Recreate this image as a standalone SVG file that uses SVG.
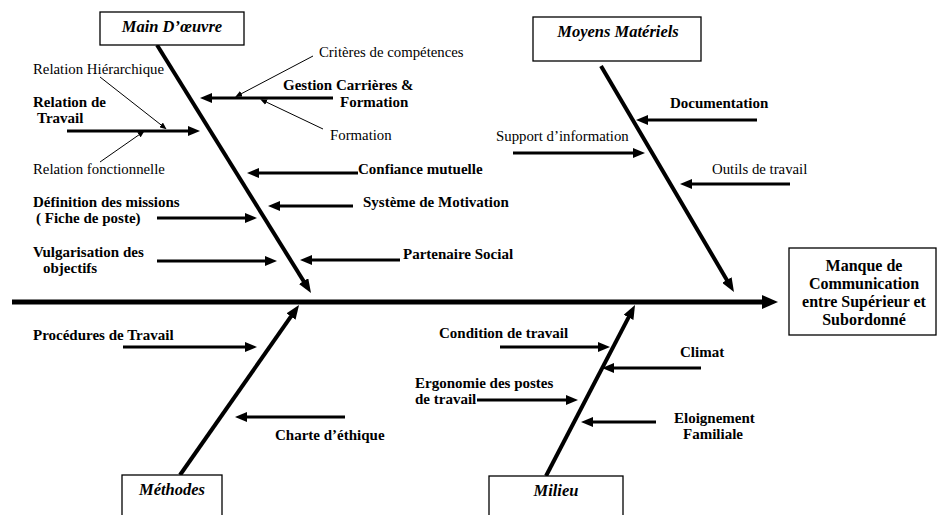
<svg xmlns="http://www.w3.org/2000/svg" width="938" height="515" viewBox="0 0 938 515">
<style>
text{font-family:"Liberation Serif","Times New Roman",serif;fill:#000}
.b{font-weight:bold;font-size:15px}
.r{font-size:14.8px}
.cat{font-style:italic;font-weight:bold;font-size:16.5px}
.eff{font-weight:bold;font-size:16px}
.box{fill:#fff;stroke:#000;stroke-width:1.3}
.thick{stroke:#000;stroke-width:3;fill:none;marker-end:url(#ah)}
.thin{stroke:#000;stroke-width:1;fill:none;marker-end:url(#as)}
.bone{stroke:#000;stroke-width:4;fill:none;marker-end:url(#ab)}
</style>
<defs>
<marker id="ah" markerUnits="userSpaceOnUse" markerWidth="12" markerHeight="10" refX="4" refY="5" orient="auto"><path d="M0,0 L12,5 L0,10 z" fill="#000"/></marker>
<marker id="as" markerUnits="userSpaceOnUse" markerWidth="7" markerHeight="6" refX="5" refY="3" orient="auto"><path d="M0,0 L7,3 L0,6 z" fill="#000"/></marker>
<marker id="ab" markerUnits="userSpaceOnUse" markerWidth="14" markerHeight="11" refX="4" refY="5.5" orient="auto"><path d="M0,0 L14,5.5 L0,11 z" fill="#000"/></marker>
<marker id="asp" markerUnits="userSpaceOnUse" markerWidth="16" markerHeight="14" refX="4" refY="7" orient="auto"><path d="M0,0 L16,7 L0,14 z" fill="#000"/></marker>
</defs>

<g id="connectors">
<line x1="12" y1="302" x2="766" y2="302" stroke="#000" stroke-width="5" marker-end="url(#asp)"/>
<line class="bone" x1="157" y1="45" x2="305.7" y2="284.5"/>
<line class="bone" x1="601" y1="66" x2="728.9" y2="283.4"/>
<line class="bone" x1="180" y1="475" x2="293.3" y2="313.2"/>
<line class="bone" x1="546" y1="476" x2="630.4" y2="313.9"/>
<line class="thick" x1="333" y1="98" x2="208" y2="98"/>
<line class="thin" x1="313" y1="56" x2="237" y2="96"/>
<line class="thin" x1="323" y1="129" x2="262" y2="100"/>
<line class="thick" x1="67" y1="131" x2="192" y2="131"/>
<line class="thin" x1="100" y1="77" x2="165" y2="128"/>
<line class="thin" x1="100" y1="162" x2="143" y2="132"/>
<line class="thick" x1="358" y1="173" x2="255" y2="173"/>
<line class="thick" x1="353" y1="206" x2="276" y2="206"/>
<line class="thick" x1="157" y1="218" x2="249" y2="218"/>
<line class="thick" x1="400" y1="260" x2="308" y2="260"/>
<line class="thick" x1="157" y1="261" x2="269" y2="261"/>
<line class="thick" x1="757" y1="120" x2="644" y2="120"/>
<line class="thick" x1="513" y1="153" x2="637" y2="153"/>
<line class="thick" x1="790" y1="184" x2="688" y2="184"/>
<line class="thick" x1="123" y1="347" x2="249" y2="347"/>
<line class="thick" x1="345" y1="417" x2="243" y2="417"/>
<line class="thick" x1="500" y1="347" x2="602" y2="347"/>
<line class="thick" x1="701" y1="368" x2="610" y2="368"/>
<line class="thick" x1="477" y1="400" x2="570" y2="400"/>
<line class="thick" x1="656" y1="422" x2="589" y2="422"/>
</g>

<g id="main-oeuvre">
<rect class="box" x="100" y="12" width="144" height="33"/>
<text class="cat" x="172" y="32" text-anchor="middle">Main D’œuvre</text>
</g>
<g id="moyens-materiels">
<rect class="box" x="533" y="17" width="168" height="44"/>
<text class="cat" x="618" y="37" text-anchor="middle">Moyens Matériels</text>
</g>
<g id="methodes">
<rect class="box" x="122" y="475" width="100" height="50"/>
<text class="cat" x="172" y="495" text-anchor="middle">Méthodes</text>
</g>
<g id="milieu">
<rect class="box" x="489" y="476" width="134" height="50"/>
<text class="cat" x="556" y="496" text-anchor="middle">Milieu</text>
</g>
<g id="effet">
<rect class="box" x="789" y="248" width="147" height="87"/>
<text class="eff" text-anchor="middle"><tspan x="864" y="271">Manque de</tspan><tspan x="864" y="289">Communication</tspan><tspan x="864" y="307">entre Supérieur et</tspan><tspan x="864" y="325">Subordonné</tspan></text>
</g>

<g id="cause-gestion">
<text class="b" x="283" y="90">Gestion Carrières &amp;</text>
<text class="b" x="340" y="107">Formation</text>
</g>
<g id="cause-criteres"><text class="r" x="319" y="57">Critères de compétences</text></g>
<g id="cause-formation"><text class="r" x="330" y="140">Formation</text></g>
<g id="cause-relation-travail">
<text class="b" x="33" y="107">Relation de</text>
<text class="b" x="37" y="123">Travail</text>
</g>
<g id="cause-hierarchique"><text class="r" x="33" y="74">Relation Hiérarchique</text></g>
<g id="cause-fonctionnelle"><text class="r" x="33" y="174">Relation fonctionnelle</text></g>
<g id="cause-confiance"><text class="b" x="358" y="174">Confiance mutuelle</text></g>
<g id="cause-motivation"><text class="b" x="363" y="207">Système de Motivation</text></g>
<g id="cause-definition">
<text class="b" x="33" y="207">Définition des missions</text>
<text class="b" x="36" y="223">( Fiche de poste)</text>
</g>
<g id="cause-partenaire"><text class="b" x="403" y="259">Partenaire Social</text></g>
<g id="cause-vulgarisation">
<text class="b" x="33" y="257">Vulgarisation des</text>
<text class="b" x="43" y="273">objectifs</text>
</g>
<g id="cause-documentation"><text class="b" x="670" y="108">Documentation</text></g>
<g id="cause-support"><text class="r" x="496" y="141">Support d’information</text></g>
<g id="cause-outils"><text class="r" x="712" y="174">Outils de travail</text></g>
<g id="cause-procedures"><text class="b" x="33" y="340">Procédures de Travail</text></g>
<g id="cause-charte"><text class="b" x="275" y="440">Charte d’éthique</text></g>
<g id="cause-condition"><text class="b" x="439" y="338">Condition de travail</text></g>
<g id="cause-climat"><text class="b" x="680" y="357">Climat</text></g>
<g id="cause-ergonomie">
<text class="b" x="415" y="388">Ergonomie des postes</text>
<text class="b" x="415" y="404">de travail</text>
</g>
<g id="cause-eloignement">
<text class="b" x="674" y="423">Eloignement</text>
<text class="b" x="683" y="439">Familiale</text>
</g>
</svg>
